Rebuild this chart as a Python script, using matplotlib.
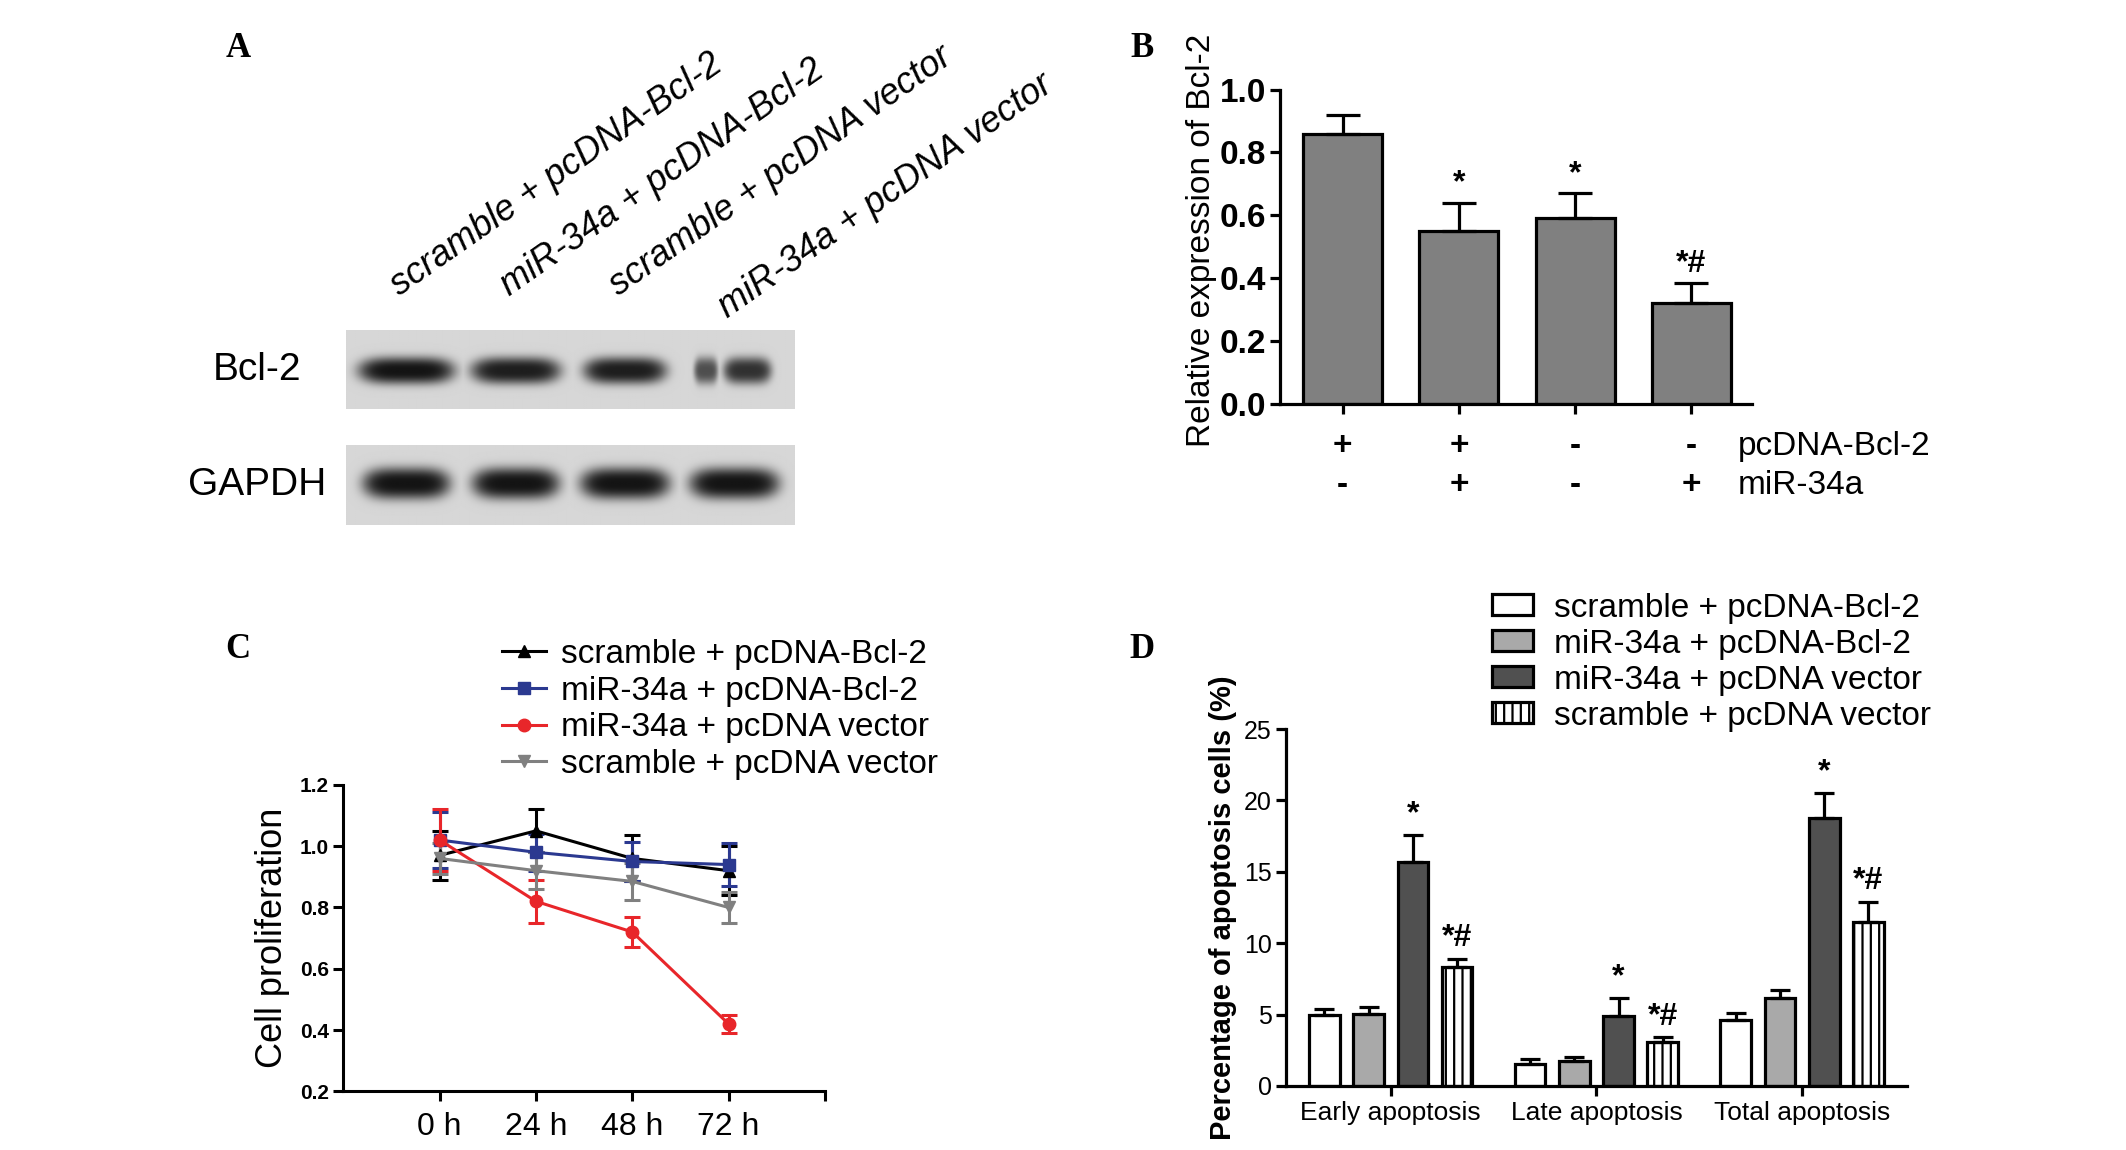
import numpy as np
import matplotlib.pyplot as plt
from matplotlib.lines import Line2D
from matplotlib.patches import Patch

plt.rcParams['font.family'] = ['Liberation Sans', 'DejaVu Sans']
plt.rcParams['hatch.linewidth'] = 1.6

### panel A - western blot
lane_labels = ['scramble + pcDNA-Bcl-2', 'miR-34a + pcDNA-Bcl-2',
               'scramble + pcDNA vector', 'miR-34a + pcDNA vector']
blot_rows = ['Bcl-2', 'GAPDH']
# (lane, half width, intensity) of each band / band fragment
bcl2_bands = [(0.0, 0.44, 1.0), (1.0, 0.41, 0.95), (2.0, 0.38, 0.95),
              (2.74, 0.11, 0.7), (3.12, 0.22, 0.85)]
gapdh_bands = [(0.0, 0.40, 1.0), (1.0, 0.40, 1.0), (2.0, 0.41, 1.0), (3.0, 0.41, 1.0)]

### panel B - relative expression of Bcl-2
b_values = [0.86, 0.55, 0.59, 0.32]
b_err = [0.06, 0.09, 0.08, 0.065]
b_marks = ['', '*', '*', '*#']
b_pcdna = ['+', '+', '-', '-']
b_mir = ['-', '+', '-', '+']

### panel C - cell proliferation
c_times = ['0 h', '24 h', '48 h', '72 h']
c_names = ['scramble + pcDNA-Bcl-2', 'miR-34a + pcDNA-Bcl-2',
           'miR-34a + pcDNA vector', 'scramble + pcDNA vector']
c_scr_bcl2 = [0.97, 1.05, 0.96, 0.92]
c_scr_bcl2_err = [0.08, 0.07, 0.075, 0.08]
c_mir_bcl2 = [1.02, 0.98, 0.95, 0.94]
c_mir_bcl2_err = [0.09, 0.06, 0.065, 0.07]
c_mir_vec = [1.02, 0.82, 0.72, 0.42]
c_mir_vec_err = [0.10, 0.07, 0.05, 0.03]
c_scr_vec = [0.96, 0.92, 0.885, 0.80]
c_scr_vec_err = [0.05, 0.06, 0.06, 0.05]

### panel D - apoptosis
d_groups = ['Early apoptosis', 'Late apoptosis', 'Total apoptosis']
d_names = ['scramble + pcDNA-Bcl-2', 'miR-34a + pcDNA-Bcl-2',
           'miR-34a + pcDNA vector', 'scramble + pcDNA vector']
d_scr_bcl2 = [4.95, 1.55, 4.6]
d_scr_bcl2_err = [0.45, 0.35, 0.5]
d_mir_bcl2 = [5.05, 1.75, 6.15]
d_mir_bcl2_err = [0.5, 0.3, 0.55]
d_mir_vec = [15.7, 4.9, 18.75]
d_mir_vec_err = [1.9, 1.25, 1.8]
d_scr_vec = [8.3, 3.1, 11.5]
d_scr_vec_err = [0.6, 0.3, 1.4]
d_marks = [['', '', '*', '*#']] * 3


fig = plt.figure(figsize=(21.26, 11.5), dpi=100)

letter_font = dict(family='Liberation Serif', fontweight='bold', fontsize=25,
                   ha='center', va='center')
fig.text(0.112, 0.958, 'A', **letter_font)
fig.text(0.537, 0.958, 'B', **letter_font)
fig.text(0.112, 0.435, 'C', **letter_font)
fig.text(0.537, 0.435, 'D', **letter_font)

### ---- A
axa = fig.add_axes([0.1628, 0.5438, 0.2109, 0.1694])
x_lo, x_hi = -0.55, 3.55
gx = np.linspace(x_lo, x_hi, 500)
gy = np.linspace(0, 1, 120)
X, Y = np.meshgrid(gx, gy)


def blot_image(bands, yc, hh):
    dark = np.zeros_like(X)
    for c, hw, inten in bands:
        q = ((X - c) / hw) ** 4 + ((Y - yc) / hh) ** 2
        dark = np.maximum(dark, inten * np.exp(-q ** 1.5))
    return 0.84 - 0.76 * dark


row_top = [0.0, 1.45]
axa.imshow(blot_image(bcl2_bands, 0.52, 0.17), cmap='gray', vmin=0, vmax=1,
           extent=[x_lo, x_hi, row_top[0] + 1, row_top[0]], aspect='auto',
           interpolation='bilinear')
axa.imshow(blot_image(gapdh_bands, 0.48, 0.2), cmap='gray', vmin=0, vmax=1,
           extent=[x_lo, x_hi, row_top[1] + 1, row_top[1]], aspect='auto',
           interpolation='bilinear')
axa.set_xlim(x_lo, x_hi)
axa.set_ylim(row_top[1] + 1, row_top[0])
axa.axis('off')
label_drop = [0.0, 0.0, 0.0, 0.28]
for i, lab in enumerate(lane_labels):
    axa.text(i - 0.06, -0.42 + label_drop[i], lab, rotation=35, rotation_mode='anchor',
             ha='left', va='baseline', fontsize=26, style='italic', clip_on=False)
for top, lab in zip(row_top, blot_rows):
    axa.text(x_lo - 0.81, top + 0.5, lab, ha='center', va='center', fontsize=28,
             clip_on=False)

### ---- B
axb = fig.add_axes([0.602, 0.649, 0.222, 0.273])
xb = np.arange(len(b_values))
axb.bar(xb, b_values, width=0.68, color='#808080', edgecolor='black', linewidth=2.3)
axb.errorbar(xb, b_values, yerr=[np.zeros(4), b_err], fmt='none', ecolor='black',
             elinewidth=2.3, capsize=12, capthick=2.3)
for x, v, e, m in zip(xb, b_values, b_err, b_marks):
    if m:
        axb.annotate(m, (x, v + e), xytext=(0, 3), textcoords='offset points',
                     ha='center', va='bottom', fontsize=23, fontweight='bold')
axb.set_xlim(-0.54, 3.52)
axb.set_ylim(0, 1.0)
axb.set_yticks(np.arange(0, 1.01, 0.2))
axb.set_yticklabels([f'{t:.1f}' for t in np.arange(0, 1.01, 0.2)],
                    fontsize=24, fontweight='bold')
axb.set_xticks(xb)
axb.set_xticklabels([])
axb.tick_params(length=7, width=2.3, pad=3)
for s in ['top', 'right']:
    axb.spines[s].set_visible(False)
for s in ['left', 'bottom']:
    axb.spines[s].set_linewidth(2.3)
axb.set_ylabel('Relative expression of Bcl-2', fontsize=24)
axb.yaxis.set_label_coords(-0.133, 0.52)
tr = axb.get_xaxis_transform()
for x, p, m in zip(xb, b_pcdna, b_mir):
    axb.text(x, -0.135, p, transform=tr, ha='center', va='center', fontsize=24,
             fontweight='bold')
    axb.text(x, -0.26, m, transform=tr, ha='center', va='center', fontsize=24,
             fontweight='bold')
axb.text(3.4, -0.135, 'pcDNA-Bcl-2', transform=tr, ha='left', va='center', fontsize=24)
axb.text(3.4, -0.26, 'miR-34a', transform=tr, ha='left', va='center', fontsize=24)

### ---- C
axc = fig.add_axes([0.1615, 0.051, 0.2265, 0.2665])
xc = np.arange(1, len(c_times) + 1)
c_data = [(c_scr_bcl2, c_scr_bcl2_err, 'black', '^'),
          (c_mir_bcl2, c_mir_bcl2_err, '#2b3990', 's'),
          (c_mir_vec, c_mir_vec_err, '#e8262a', 'o'),
          (c_scr_vec, c_scr_vec_err, '#808080', 'v')]
handles = []
for (vals, err, col, mk), name in zip(c_data, c_names):
    axc.errorbar(xc, vals, yerr=err, color=col, marker=mk, markersize=9,
                 linewidth=2.2, elinewidth=2.2, capsize=6, capthick=2.2)
    handles.append(Line2D([], [], color=col, marker=mk, markersize=9, linewidth=2.2))
axc.set_xlim(0, 5)
axc.set_ylim(0.2, 1.2)
axc.set_yticks(np.arange(0.2, 1.21, 0.2))
axc.set_yticklabels([f'{t:.1f}' for t in np.arange(0.2, 1.21, 0.2)],
                    fontsize=15, fontweight='bold')
axc.set_xticks(list(xc) + [5])
axc.set_xticklabels(c_times + [''], fontsize=23)
axc.tick_params(length=7, width=2.2)
axc.tick_params(axis='x', pad=8)
for s in ['top', 'right']:
    axc.spines[s].set_visible(False)
for s in ['left', 'bottom']:
    axc.spines[s].set_linewidth(2.2)
axc.set_ylabel('Cell proliferation', fontsize=26)
axc.yaxis.set_label_coords(-0.11, 0.5)
fig.legend(handles, c_names, loc='upper left', bbox_to_anchor=(0.236, 0.4444),
           frameon=False, fontsize=24, handlelength=1.33, handletextpad=0.46,
           labelspacing=0.17, borderpad=0, borderaxespad=0)

### ---- D
axd = fig.add_axes([0.605, 0.0557, 0.292, 0.3103])
xd = np.arange(len(d_groups))
d_series = [(d_scr_bcl2, d_scr_bcl2_err, 'white', ''),
            (d_mir_bcl2, d_mir_bcl2_err, '#a9a9a9', ''),
            (d_mir_vec, d_mir_vec_err, '#505050', ''),
            (d_scr_vec, d_scr_vec_err, 'white', '||')]
step = 0.215
patches = []
for k, ((vals, err, col, hatch), name) in enumerate(zip(d_series, d_names)):
    pos = xd + (k - 1.5) * step
    axd.bar(pos, vals, width=0.149, color=col, edgecolor='black', linewidth=2.3,
            hatch=hatch)
    axd.errorbar(pos, vals, yerr=[np.zeros(len(vals)), err], fmt='none',
                 ecolor='black', elinewidth=2.3, capsize=7, capthick=2.3)
    for x, v, e, g in zip(pos, vals, err, range(len(vals))):
        m = d_marks[g][k]
        if m:
            axd.annotate(m, (x, v + e), xytext=(0, 4), textcoords='offset points',
                         ha='center', va='bottom', fontsize=23, fontweight='bold')
    patches.append(Patch(facecolor=col, edgecolor='black', linewidth=2.3, hatch=hatch))
axd.set_xlim(-0.508, 2.51)
axd.set_ylim(0, 25)
axd.set_yticks(np.arange(0, 26, 5))
axd.set_yticklabels([str(t) for t in range(0, 26, 5)], fontsize=18)
axd.set_xticks(xd)
axd.set_xticklabels(d_groups, fontsize=19)
axd.tick_params(length=7, width=2.3)
for s in ['top', 'right']:
    axd.spines[s].set_visible(False)
for s in ['left', 'bottom']:
    axd.spines[s].set_linewidth(2.3)
axd.set_ylabel('Percentage of apoptosis cells (%)', fontsize=21, fontweight='bold')
axd.yaxis.set_label_coords(-0.079, 0.5)
fig.legend(patches, d_names, loc='upper left', bbox_to_anchor=(0.7018, 0.4847),
           frameon=False, fontsize=24, handlelength=1.23, handleheight=0.6,
           handletextpad=0.62, labelspacing=0.15, borderpad=0, borderaxespad=0)

fig.savefig('out.png', dpi=100)
